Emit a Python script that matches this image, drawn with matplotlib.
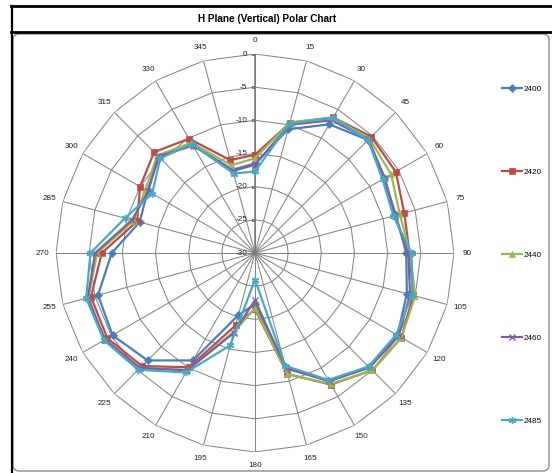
import numpy as np
import matplotlib
matplotlib.use("Agg")
import matplotlib.pyplot as plt
from matplotlib.patches import FancyBboxPatch
from matplotlib.lines import Line2D

plt.rcParams['font.family'] = ['Liberation Sans', 'DejaVu Sans']

angles_deg = list(range(0, 360, 15))
angle_labels = [str(a) for a in angles_deg]
r_ticks = [0, -5, -10, -15, -20, -25, -30]
r_tick_labels = ["0", "-5", "-10", "-15", "-20", "-25", "-30"]

series_names = ["2400", "2420", "2440", "2460", "2485"]
s2400 = [-16.5, -10.7, -7.6, -5.9, -7.5, -8.0, -7.2, -6.3, -5.2, -5.6, -7.7, -12.2,
         -22.3, -20.3, -11.3, -7.1, -5.2, -5.5, -8.4, -12.0, -11.3, -9.5, -11.2, -17.0]
s2420 = [-15.2, -9.7, -6.4, -5.2, -5.5, -6.7, -6.7, -5.3, -4.5, -5.0, -7.1, -11.1,
         -21.5, -18.7, -10.1, -5.9, -4.3, -4.4, -6.9, -11.6, -10.0, -8.5, -10.1, -15.5]
s2440 = [-15.7, -9.6, -6.4, -5.6, -6.3, -7.4, -6.6, -5.0, -4.5, -5.0, -7.2, -11.1,
         -21.7, -17.7, -9.6, -5.4, -3.8, -4.0, -6.2, -11.1, -10.9, -9.2, -10.8, -16.3]
s2460 = [-16.7, -10.0, -6.9, -5.8, -7.4, -8.2, -6.9, -5.8, -5.0, -5.6, -7.7, -12.0,
         -22.9, -17.5, -9.6, -5.5, -3.9, -3.9, -5.9, -10.8, -11.4, -9.4, -11.3, -17.2]
s2485 = [-17.7, -9.8, -6.5, -5.9, -7.8, -8.4, -6.4, -5.5, -5.4, -5.8, -7.9, -12.4,
         -26.0, -15.6, -9.2, -5.1, -3.7, -3.65, -5.2, -9.7, -12.1, -9.8, -11.0, -17.6]
series_values = [s2400, s2420, s2440, s2460, s2485]

colors = ["#4A7EBB", "#BE4B48", "#98B954", "#7D60A0", "#46AAC5"]
markers = ["D", "s", "^", "x", (6, 2, 0)]
msizes = [3.6, 4.6, 4.8, 4.6, 5.2]

W, H = 552, 473
fig = plt.figure(figsize=(W / 100, H / 100), dpi=100)


def fx(px):
    return px / W


def fy(py):
    return 1 - py / H


# frame decorations
fig.add_artist(FancyBboxPatch((fx(13), fy(471)), fx(549) - fx(13), fy(34) - fy(471),
                              boxstyle="round,pad=0,rounding_size=0.012",
                              transform=fig.transFigure, facecolor="white",
                              edgecolor="#8c8c8c", linewidth=1.0, zorder=0))
fig.add_artist(Line2D([fx(11), 1.0], [fy(6), fy(6)], color="black", lw=2.0, transform=fig.transFigure))
fig.add_artist(Line2D([fx(11), 1.0], [fy(32.5), fy(32.5)], color="black", lw=2.0, transform=fig.transFigure))
fig.add_artist(Line2D([fx(11.5), fx(11.5)], [fy(6), 0.0], color="black", lw=1.6, transform=fig.transFigure))
fig.text(fx(267), fy(18.5), "H Plane (Vertical) Polar Chart", ha="center", va="center",
         fontsize=7.2, fontweight="bold")

cx, cy, R = 255, 253, 199
ax = fig.add_axes([fx(cx - R), fy(cy + R), 2 * R / W, 2 * R / H], projection="polar")
ax.set_theta_zero_location("N")
ax.set_theta_direction(-1)
ax.set_ylim(-30, 0)
ax.grid(False)
ax.set_xticks([])
ax.set_yticks([])
ax.spines["polar"].set_visible(False)
ax.patch.set_alpha(0)

th = np.deg2rad(angles_deg)
th_closed = np.append(th, th[0])
grid_col = "#858585"
# polygon rings
for lvl in r_ticks[:-1]:
    ax.plot(th_closed, [lvl] * len(th_closed), color=grid_col, lw=0.75, zorder=1)
# spokes
for a in th:
    ax.plot([a, a], [-30, 0], color=grid_col, lw=0.75, zorder=1)
ax.plot([0, 0], [-30, 0], color="#7a7a7a", lw=1.1, zorder=1)
# value axis tick marks and labels
ax.plot([0] * len(r_ticks), r_ticks, linestyle="none", marker=0, markersize=3,
        color="#7a7a7a", markeredgewidth=0.8, zorder=2)
for v, lab in zip(r_ticks, r_tick_labels):
    ax.annotate(lab, xy=(0, v), xytext=(-5.5, 0), textcoords="offset points",
                ha="right", va="center", fontsize=5.9, color="#222222")
# angle labels
for a, lab in zip(th, angle_labels):
    ax.text(a, 2.0, lab, ha="center", va="center", fontsize=5.9, color="#222222",
            clip_on=False)

handles = []
for name, vals, c, m, ms in zip(series_names, series_values, colors, markers, msizes):
    v = np.append(vals, vals[0])
    h, = ax.plot(th_closed, v, color=c, lw=1.6, marker=m, markersize=ms,
                 markeredgewidth=1.0 if m in ("x",) or isinstance(m, tuple) else 0.5,
                 markeredgecolor=c, markerfacecolor=c, label=name, zorder=3, clip_on=False)
    handles.append(h)

fig.legend(handles=handles, labels=series_names, loc="center left",
           bbox_to_anchor=(fx(502), fy(255)), frameon=False, fontsize=5.9,
           handlelength=2.5, handletextpad=0.15, labelspacing=9.2, borderpad=0,
           borderaxespad=0)

fig.savefig("out.png", dpi=100)
